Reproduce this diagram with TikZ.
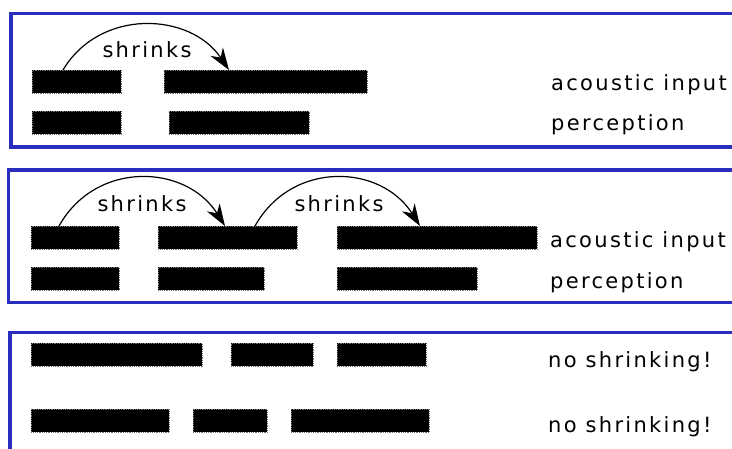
\documentclass[tikz,border=0pt]{standalone}
\usepackage{fontspec}
\setmainfont[LetterSpace=11]{DejaVu Sans}
\usetikzlibrary{arrows.meta}
\definecolor{frameblue}{RGB}{42,46,190}
\tikzset{
  x=1pt,y=-1pt,
  frame/.style={draw=frameblue,line width=3.6pt},
  bar/.style={fill=black,draw=black!55,densely dotted,line width=0.8pt,inner sep=0pt,minimum height=23pt,anchor=north west},
  lbl/.style={font=\fontsize{21}{25}\selectfont,anchor=base west,inner sep=0pt},
  shr/.style={-{Stealth[length=22pt,width=15pt,inset=7pt]},line width=1.2pt,black},
}
\begin{document}
\begin{tikzpicture}
\useasboundingbox (0,0) rectangle (732,448);
% frames
\draw[frame] (760,13.5) -- (11,13.5) -- (11,147) -- (760,147);
\draw[frame] (760,170) -- (8.5,170) -- (8.5,302.5) -- (760,302.5);
\draw[frame] (760,332.5) -- (10,332.5) -- (10,470);
% box 1
\node[bar,minimum width=89pt] (a1) at (32,70) {};
\node[bar,minimum width=203pt] (a2) at (164,70) {};
\node[bar,minimum width=89pt] (p1) at (32,111) {};
\node[bar,minimum width=140pt] (p2) at (169,111) {};
\node[lbl] (ai1) at (551,90) {acoustic input};
\node[lbl] (pe1) at (551,130) {perception};
\coordinate (s1) at (63,70);
\coordinate (e1) at (229,70);
\draw[shr] (s1) .. controls (100,8) and (190,12) .. (e1);
\node[lbl,anchor=base] (t1) at (147,57) {shrinks};
% box 2
\node[bar,minimum width=88pt] (b1) at (31,226) {};
\node[bar,minimum width=139pt] (b2) at (158,226) {};
\node[bar,minimum width=200pt] (b3) at (337,226) {};
\node[bar,minimum width=88pt] (q1) at (31,267) {};
\node[bar,minimum width=106pt] (q2) at (158,267) {};
\node[bar,minimum width=140pt] (q3) at (337,267) {};
\node[lbl] (ai2) at (550,247) {acoustic input};
\node[lbl] (pe2) at (550,288) {perception};
\coordinate (s2) at (59,226);
\coordinate (e2) at (225,226);
\coordinate (s3) at (255,226);
\coordinate (e3) at (420,226);
\draw[shr] (s2) .. controls (96,160) and (186,164) .. (e2);
\draw[shr] (s3) .. controls (292,160) and (381,164) .. (e3);
\node[lbl,anchor=base] (t2) at (142,211) {shrinks};
\node[lbl,anchor=base] (t3) at (339,211) {shrinks};
% box 3
\node[bar,minimum width=171pt] (c1) at (31,343) {};
\node[bar,minimum width=82pt] (c2) at (231,343) {};
\node[bar,minimum width=89pt] (c3) at (337,343) {};
\node[bar,minimum width=138pt] (d1) at (31,409) {};
\node[bar,minimum width=74pt] (d2) at (193,409) {};
\node[bar,minimum width=138pt] (d3) at (291,409) {};
\node[lbl] (ns1) at (548,367) {no shrinking!};
\node[lbl] (ns2) at (548,432) {no shrinking!};
\end{tikzpicture}
\end{document}
